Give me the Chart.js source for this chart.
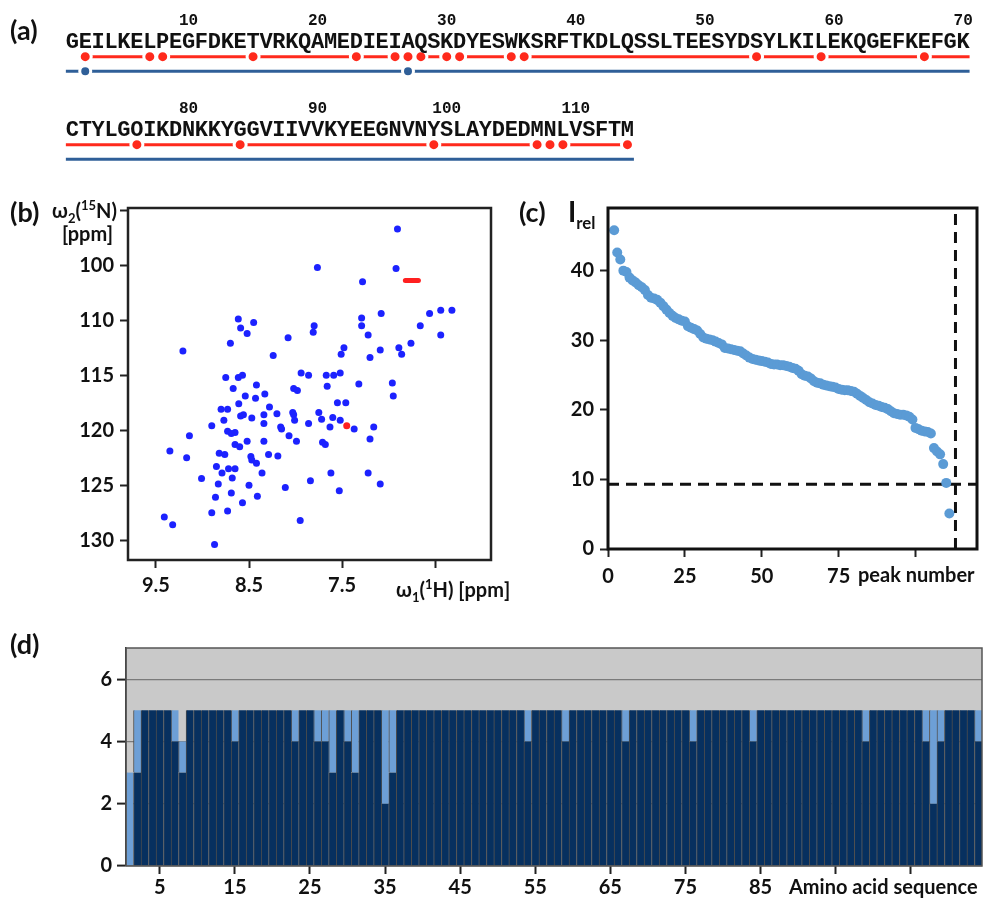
<!DOCTYPE html>
<html>
<head>
<meta charset="utf-8">
<script src="https://cdn.jsdelivr.net/npm/chart.js@4.4.0/dist/chart.umd.min.js"></script>
<style>
  body { margin: 0; background: #fff; }
  #fig { position: relative; width: 987px; height: 898px; overflow: hidden;
         font-family: Lato, "Open Sans", sans-serif; font-weight: bold; color: #111; }
  .cv { position: absolute; }
  .lbl { position: absolute; white-space: nowrap; font-weight: bold; }
  .panel { font-size: 27px; }
  .axt { font-size: 20px; }
  sub, sup { font-size: 65%; }
</style>
</head>
<body>
<div id="fig">
  <div class="cv" style="left:0px;top:0px;width:987px;height:95px"><canvas id="rowA1" width="987" height="95"></canvas></div>
  <div class="cv" style="left:0px;top:88px;width:987px;height:95px"><canvas id="rowA2" width="987" height="95"></canvas></div>
  <div class="cv" style="left:0px;top:190px;width:520px;height:420px"><canvas id="chartB" width="520" height="420"></canvas></div>
  <div class="cv" style="left:520px;top:190px;width:467px;height:420px"><canvas id="chartC" width="467" height="420"></canvas></div>
  <div class="cv" style="left:0px;top:620px;width:987px;height:278px"><canvas id="chartD" width="987" height="278"></canvas></div>

  <div class="lbl panel" style="left:10px;top:13px">(a)</div>
  <div class="lbl panel" style="left:10px;top:195px">(b)</div>
  <div class="lbl panel" style="left:519px;top:195px">(c)</div>
  <div class="lbl panel" style="left:10px;top:627px">(d)</div>

  <div class="lbl axt" style="left:52px;top:197px">ω<sub>2</sub>(<sup>15</sup>N)</div>
  <div class="lbl axt" style="left:62px;top:221px">[ppm]</div>
  <div class="lbl axt" style="left:396px;top:576px">ω<sub>1</sub>(<sup>1</sup>H) [ppm]</div>
  <div class="lbl" style="left:568px;top:194px;font-size:28px">I<sub style="font-size:60%">rel</sub></div>
  <div class="lbl axt" style="left:858px;top:562px">peak number</div>
  <div class="lbl axt" style="left:789px;top:874px">Amino acid sequence</div>
</div>

<script>
// ---- (a) sequence / assignment tracks ----
var sequence = "GEILKELPEGFDKETVRKQAMEDIEIAQSKDYESWKSRFTKDLQSSLTEESYDSYLKILEKQGEFKEFGK" +
               "CTYLGOIKDNKKYGGVIIVVKYEEGNVNYSLAYDEDMNLVSFTM";
var rowFirst = [1, 71];
var rowLast = [70, 114];
var redDots = [2, 7, 8, 15, 23, 26, 27, 28, 30, 31, 35, 36, 54, 59, 67,
               76, 84, 99, 107, 108, 109, 114];
var blueDots = [2, 27];
var redSpans = [[2, 70.5], [70.5, 114.5]];
var blueSpans = [[0.5, 70.5], [70.5, 114.5]];

// ---- (b) 1H-15N peaks ----
var peakH = [6.905, 7.765, 6.92, 7.28, 7.08, 6.56, 6.44, 6.32, 8.615, 8.45,
             7.29, 8.59, 7.80, 7.29, 8.52, 7.81, 6.66, 7.22, 6.44, 8.08,
             8.70, 6.76, 9.21, 7.48, 6.89, 7.09, 6.86, 7.51, 8.24, 7.20,
             8.75, 8.615, 8.57, 7.94, 7.86, 7.67, 7.59, 7.52, 7.32, 6.96,
             8.42, 8.67, 8.02, 7.98, 7.66, 8.54, 8.33, 8.43, 6.95, 8.61,
             7.55, 7.46, 8.28, 8.80, 8.73, 8.77, 8.59, 8.56, 8.47, 8.34,
             8.20, 8.03, 8.02, 7.75, 8.01, 7.72, 7.86, 7.60, 7.52, 8.34,
             8.90, 7.37, 7.16, 7.63, 8.16, 8.15, 8.73, 8.65, 8.69, 9.14,
             8.07, 8.52, 8.34, 7.99, 7.71, 7.68, 7.20, 8.65, 8.60, 9.35,
             8.82, 8.76, 8.29, 8.19, 9.17, 8.48, 8.47, 8.42, 8.85, 8.72,
             8.65, 8.79, 8.36, 7.62, 7.22, 9.01, 8.68, 7.84, 8.83, 7.09,
             8.50, 8.11, 7.53, 8.69, 8.41, 8.86, 8.57, 8.90, 8.73, 9.41,
             7.95, 9.32, 8.87];
var peakN = [101.7, 105.2, 105.3, 106.5, 109.4, 109.4, 109.1, 109.1, 109.9, 110.2,
             109.8, 110.7, 110.5, 110.5, 111.2, 111.1, 110.5, 111.35, 111.35, 111.6,
             112.1, 112.1, 112.8, 112.5, 112.5, 112.7, 113.1, 113.1, 113.2, 113.4,
             115.2, 115.2, 115.0, 114.8, 115.0, 115.0, 115.0, 114.8, 115.8, 115.7,
             115.9, 116.2, 116.2, 116.4, 116.0, 116.9, 116.7, 117.1, 116.9, 117.6,
             117.5, 117.5, 117.9, 118.1, 118.1, 119.1, 118.7, 118.6, 118.9, 118.6,
             118.5, 118.4, 118.6, 118.4, 119.1, 119.0, 119.4, 118.85, 119.1, 119.4,
             119.6, 119.9, 119.7, 119.7, 119.7, 119.9, 120.1, 120.2, 120.3, 120.5,
             120.5, 121.0, 121.0, 121.0, 121.1, 121.3, 120.8, 121.3, 121.5, 121.9,
             122.1, 122.2, 122.2, 122.35, 122.5, 122.4, 122.7, 123.0, 123.3, 123.5,
             123.5, 123.9, 123.9, 123.9, 123.9, 124.4, 124.35, 124.6, 124.9, 124.9,
             125.0, 125.2, 125.5, 125.7, 126.0, 126.1, 126.6, 127.5, 127.35, 127.9,
             128.2, 128.6, 130.4];
var shiftedH = [7.45];
var shiftedN = [119.6];
var glyH = [6.82, 6.68];
var glyN = [106.4, 106.4];
var hTicks = [9.5, 8.5, 7.5, 6.5];
var nTicks = [100, 105, 110, 115, 120, 125, 130];

// ---- (c) relative intensities, peak 2 onwards ----
var firstPeak = 2;
var intensity = [45.8, 42.6, 41.6, 40.0, 39.8, 39.0, 38.6, 38.3, 37.9, 37.6,
                 37.2, 36.5, 36.1, 36.0, 35.8, 35.4, 34.9, 34.4, 33.9, 33.5,
                 33.2, 33.0, 32.8, 32.7, 32.0, 31.8, 31.6, 31.4, 30.9, 30.4,
                 30.2, 30.1, 30.0, 29.8, 29.6, 29.4, 28.9, 28.8, 28.7, 28.6,
                 28.5, 28.4, 28.1, 27.8, 27.5, 27.3, 27.2, 27.1, 27.0, 26.9,
                 26.8, 26.6, 26.5, 26.5, 26.4, 26.4, 26.3, 26.2, 26.0, 25.9,
                 25.6, 25.1, 24.9, 24.8, 24.5, 24.1, 23.9, 23.8, 23.6, 23.5,
                 23.4, 23.3, 23.2, 23.0, 22.9, 22.8, 22.8, 22.7, 22.6, 22.3,
                 22.0, 21.7, 21.4, 21.1, 20.9, 20.7, 20.6, 20.4, 20.3, 20.1,
                 19.8, 19.5, 19.4, 19.3, 19.3, 19.2, 19.0, 18.6, 17.4, 17.2,
                 17.0, 16.9, 16.8, 16.6, 14.5, 14.0, 13.6, 12.2, 9.5, 5.1];
var intensityCut = 9.3;
var peakCut = 113;
var peakTicks = [0, 25, 50, 75, 100];
var irelTicks = [0, 10, 20, 30, 40];

// ---- (d) per-residue scores ----
var residues = [];
for (var r = 1; r <= 114; r++) residues.push(String(r));
var scoreDark = [0, 3, 5, 5, 5, 5, 4, 3, 5, 5,
                 5, 5, 5, 5, 4, 5, 5, 5, 5, 5,
                 5, 5, 4, 5, 5, 4, 4, 3, 5, 4,
                 3, 5, 5, 5, 2, 3, 5, 5, 5, 5,
                 5, 5, 5, 5, 5, 5, 5, 5, 5, 5,
                 5, 5, 5, 4, 5, 5, 5, 5, 4, 5,
                 5, 5, 5, 5, 5, 5, 4, 5, 5, 5,
                 5, 5, 5, 5, 5, 4, 5, 5, 5, 5,
                 5, 5, 5, 4, 5, 5, 5, 5, 5, 5,
                 5, 5, 5, 5, 5, 5, 5, 5, 4, 5,
                 5, 5, 5, 5, 5, 5, 4, 2, 4, 5,
                 5, 5, 5, 4];
var scoreLight = [3, 2, 0, 0, 0, 0, 1, 1, 0, 0,
                  0, 0, 0, 0, 1, 0, 0, 0, 0, 0,
                  0, 0, 1, 0, 0, 1, 1, 2, 0, 1,
                  2, 0, 0, 0, 3, 2, 0, 0, 0, 0,
                  0, 0, 0, 0, 0, 0, 0, 0, 0, 0,
                  0, 0, 0, 1, 0, 0, 0, 0, 1, 0,
                  0, 0, 0, 0, 0, 0, 1, 0, 0, 0,
                  0, 0, 0, 0, 0, 1, 0, 0, 0, 0,
                  0, 0, 0, 1, 0, 0, 0, 0, 0, 0,
                  0, 0, 0, 0, 0, 0, 0, 0, 1, 0,
                  0, 0, 0, 0, 0, 0, 1, 3, 1, 0,
                  0, 0, 0, 1];
var residueTicks = [5, 15, 25, 35, 45, 55, 65, 75, 85, 95, 105];
var residueLabels = [5, 15, 25, 35, 45, 55, 65, 75, 85];
var scoreTicks = [0, 2, 4, 6];

var RED = "#ff2a1c";
var TRACK_BLUE = "#2f5f98";
var TICK_FONT = { family: "Lato, 'Open Sans', sans-serif", size: 20, weight: "bold" };

Chart.defaults.animation = false;
Chart.defaults.responsive = false;
Chart.defaults.devicePixelRatio = 1;
Chart.defaults.events = [];
Chart.defaults.plugins.legend.display = false;
Chart.defaults.plugins.tooltip.enabled = false;
Chart.defaults.color = "#111";

// frame round the plot area
function framePlugin(color, width) {
  return {
    id: "frame",
    afterDraw: function (chart) {
      var a = chart.chartArea, ctx = chart.ctx;
      ctx.save();
      ctx.strokeStyle = color;
      ctx.lineWidth = width;
      ctx.strokeRect(a.left, a.top, a.right - a.left, a.bottom - a.top);
      ctx.restore();
    },
  };
}

// sequence letters and residue numbers over each track row
function seqTextPlugin(first, last) {
  return {
    id: "seqText",
    afterDatasetsDraw: function (chart) {
      var ctx = chart.ctx, xs = chart.scales.x, ys = chart.scales.y;
      var base = ys.getPixelForValue(1);
      ctx.save();
      ctx.fillStyle = "#111";
      ctx.textAlign = "center";
      ctx.font = 'bold 22px "Liberation Mono", monospace';
      for (var r = first; r <= last; r++) {
        ctx.fillText(sequence[r - 1], xs.getPixelForValue(r), base - 9);
      }
      ctx.font = 'bold 16px "Liberation Mono", monospace';
      for (var r2 = first; r2 <= last; r2++) {
        if (r2 % 10 === 0) ctx.fillText(String(r2), xs.getPixelForValue(r2), base - 32);
      }
      ctx.restore();
    },
  };
}

var charStep = 13.15;
var firstCenter = 64.5;

function makeRow(id, k) {
  var first = rowFirst[k], last = rowLast[k];
  var inRow = function (r) { return r >= first && r <= last; };
  var xmin = first - firstCenter / charStep;
  return new Chart(document.getElementById(id), {
    type: "scatter",
    data: {
      datasets: [
        {
          data: redDots.filter(inRow).map(function (r) { return { x: r, y: 1 }; }),
          pointRadius: 6, pointBackgroundColor: RED,
          pointBorderColor: "#fff", pointBorderWidth: 3, clip: false,
        },
        {
          data: blueDots.filter(inRow).map(function (r) { return { x: r, y: 2 }; }),
          pointRadius: 5.5, pointBackgroundColor: TRACK_BLUE,
          pointBorderColor: "#fff", pointBorderWidth: 3, clip: false,
        },
        {
          data: [{ x: redSpans[k][0], y: 1 }, { x: redSpans[k][1], y: 1 }],
          showLine: true, borderColor: RED, borderWidth: 3, pointRadius: 0, clip: false,
        },
        {
          data: [{ x: blueSpans[k][0], y: 2 }, { x: blueSpans[k][1], y: 2 }],
          showLine: true, borderColor: TRACK_BLUE, borderWidth: 3, pointRadius: 0, clip: false,
        },
      ],
    },
    options: {
      layout: { padding: { top: 42, bottom: 2, left: 0, right: 0 } },
      scales: {
        x: { type: "linear", display: false, min: xmin, max: xmin + 987 / charStep },
        y: { display: false, min: 0, max: 3, reverse: true },
      },
    },
    plugins: [seqTextPlugin(first, last)],
  });
}

makeRow("rowA1", 0);
makeRow("rowA2", 1);

// ---- (b) ----
new Chart(document.getElementById("chartB"), {
  type: "scatter",
  data: {
    datasets: [
      {
        data: peakH.map(function (h, i) { return { x: h, y: peakN[i] }; }),
        pointRadius: 3.5, pointBackgroundColor: "#1c22ff", pointBorderWidth: 0,
      },
      {
        data: shiftedH.map(function (h, i) { return { x: h, y: shiftedN[i] }; }),
        pointRadius: 3.5, pointBackgroundColor: "#ff2020", pointBorderWidth: 0,
      },
      {
        data: glyH.map(function (h, i) { return { x: h, y: glyN[i] }; }),
        showLine: true, borderColor: "#ff2020", borderWidth: 5,
        borderCapStyle: "round", pointRadius: 0,
      },
    ],
  },
  options: {
    layout: { padding: { top: 8, right: 29, left: 0, bottom: 0 } },
    scales: {
      x: {
        type: "linear", reverse: true, min: 5.9, max: 9.8,
        afterBuildTicks: function (s) { s.ticks = hTicks.map(function (v) { return { value: v }; }); },
        afterFit: function (s) { s.height = 50; },
        border: { display: false },
        grid: { drawOnChartArea: false, tickLength: 8, tickColor: "#222", tickWidth: 2 },
        ticks: {
          font: TICK_FONT, padding: 6,
          callback: function (v) { return v === 6.5 ? "" : v.toFixed(1); },
        },
      },
      y: {
        type: "linear", reverse: true, min: 99.8, max: 131.8,
        afterBuildTicks: function (s) { s.ticks = nTicks.map(function (v) { return { value: v }; }); },
        afterFit: function (s) { s.width = 128; },
        border: { display: false },
        grid: { drawOnChartArea: false, tickLength: 8, tickColor: "#222", tickWidth: 2 },
        ticks: {
          font: TICK_FONT, padding: 6,
          // the figure prints "100" at the 105 ppm tick and leaves the top tick bare
          callback: function (v) { return v === 100 ? "" : (v === 105 ? "100" : String(v)); },
        },
      },
    },
  },
  plugins: [framePlugin("#222", 2.5)],
});

// ---- (c) ----
new Chart(document.getElementById("chartC"), {
  type: "scatter",
  data: {
    datasets: [
      {
        data: intensity.map(function (v, i) { return { x: firstPeak + i, y: v }; }),
        pointRadius: 5, pointBackgroundColor: "#5b9bd5", pointBorderWidth: 0,
      },
      {
        data: [{ x: 0, y: intensityCut }, { x: 120, y: intensityCut }],
        showLine: true, borderColor: "#111", borderWidth: 3, borderDash: [11, 7], pointRadius: 0,
      },
      {
        data: [{ x: peakCut, y: 0 }, { x: peakCut, y: 49 }],
        showLine: true, borderColor: "#111", borderWidth: 3, borderDash: [11, 7], pointRadius: 0,
      },
    ],
  },
  options: {
    layout: { padding: { top: 12, right: 10, left: 0, bottom: 0 } },
    scales: {
      x: {
        type: "linear", min: 0, max: 120,
        afterBuildTicks: function (s) { s.ticks = peakTicks.map(function (v) { return { value: v }; }); },
        afterFit: function (s) { s.height = 61; },
        border: { display: false },
        grid: { drawOnChartArea: false, tickLength: 8, tickColor: "#222", tickWidth: 2 },
        ticks: { font: TICK_FONT, padding: 8, callback: function (v) { return v === 100 ? "" : String(v); } },
      },
      y: {
        type: "linear", min: 0, max: 49,
        afterBuildTicks: function (s) { s.ticks = irelTicks.map(function (v) { return { value: v }; }); },
        afterFit: function (s) { s.width = 88; },
        border: { display: false },
        grid: { drawOnChartArea: false, tickLength: 8, tickColor: "#222", tickWidth: 2 },
        ticks: { font: TICK_FONT, padding: 6 },
      },
    },
  },
  plugins: [framePlugin("#111", 3)],
});

// ---- (d) ----
var plotBg = {
  id: "plotBg",
  beforeDraw: function (chart) {
    var a = chart.chartArea, ctx = chart.ctx;
    ctx.save();
    ctx.fillStyle = "#c9c9c9";
    ctx.fillRect(a.left, a.top, a.right - a.left, a.bottom - a.top);
    ctx.restore();
  },
};

new Chart(document.getElementById("chartD"), {
  type: "bar",
  data: {
    labels: residues,
    datasets: [
      {
        data: scoreDark, backgroundColor: "#07305f", borderColor: "#4d4d4d",
        borderWidth: { left: 1, right: 0, top: 0, bottom: 0 }, borderSkipped: false,
        barPercentage: 1, categoryPercentage: 1,
      },
      {
        data: scoreLight, backgroundColor: "#6d9fd6", borderColor: "#4d4d4d",
        borderWidth: { left: 1, right: 0, top: 0, bottom: 0 }, borderSkipped: false,
        barPercentage: 1, categoryPercentage: 1,
      },
    ],
  },
  options: {
    layout: { padding: { top: 28, right: 5, left: 0, bottom: 0 } },
    scales: {
      x: {
        stacked: true,
        afterFit: function (s) { s.height = 32; },
        border: { display: false },
        grid: {
          offset: false, drawOnChartArea: false, tickLength: 8, tickWidth: 2,
          tickColor: function (ctx) {
            return residueTicks.indexOf(ctx.index + 1) >= 0 ? "#222" : "rgba(0,0,0,0)";
          },
        },
        ticks: {
          font: TICK_FONT, autoSkip: false, maxRotation: 0, padding: 2,
          callback: function (v, i) {
            return residueLabels.indexOf(i + 1) >= 0 ? residues[i] : "";
          },
        },
      },
      y: {
        stacked: true, min: 0, max: 7,
        afterBuildTicks: function (s) { s.ticks = scoreTicks.map(function (v) { return { value: v }; }); },
        afterFit: function (s) { s.width = 126; },
        border: { display: true, color: "#222", width: 1.5 },
        grid: { color: "#7a7a7a", lineWidth: 1.2, tickLength: 9, tickColor: "#222", tickWidth: 2 },
        ticks: { font: TICK_FONT, padding: 5 },
      },
    },
  },
  plugins: [plotBg, framePlugin("#555", 1.5)],
});
</script>
</body>
</html>
